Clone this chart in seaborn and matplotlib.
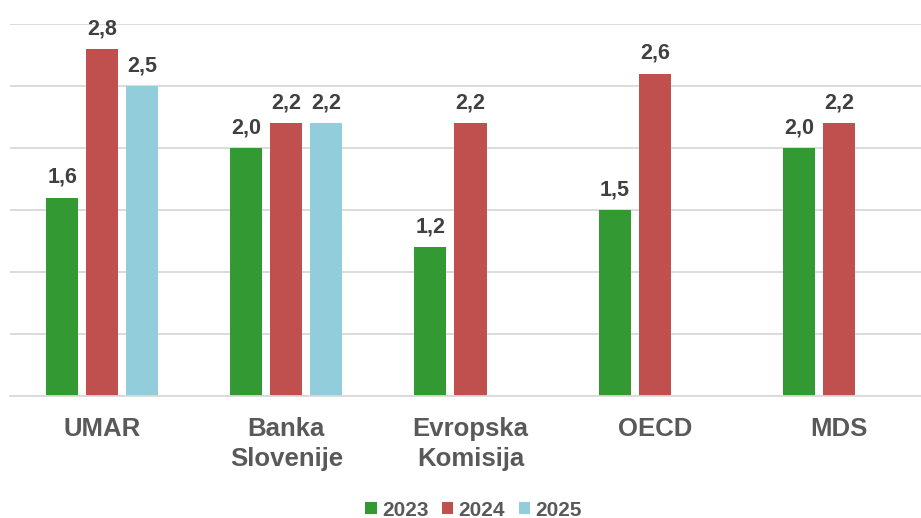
import matplotlib
matplotlib.use("Agg")
import matplotlib.pyplot as plt
import seaborn as sns
import pandas as pd
import numpy as np

categories = ["UMAR", "Banka\nSlovenije", "Evropska\nKomisija", "OECD", "MDS"]
years = ["2023", "2024", "2025"]
v2023 = [1.6, 2.0, 1.2, 1.5, 2.0]
v2024 = [2.8, 2.2, 2.2, 2.6, 2.2]
v2025 = [2.5, 2.2, np.nan, np.nan, np.nan]
colors = ["#339933", "#C0504D", "#92CDDC"]

rows = []
for yr, vals in zip(years, [v2023, v2024, v2025]):
    for c, v in zip(categories, vals):
        rows.append({"kat": c, "leto": yr, "val": v})
df = pd.DataFrame(rows).dropna()

sns.set_theme(style="white")
plt.rcParams["font.family"] = ["Liberation Sans", "DejaVu Sans"]

fig = plt.figure(figsize=(9.21, 5.18), dpi=100)
ax = fig.add_axes([10 / 921, 122 / 518, 921 / 921, 372 / 518])

sns.barplot(data=df, x="kat", y="val", hue="leto", order=categories,
            hue_order=years, palette=colors, width=0.652, gap=0.2,
            saturation=1, linewidth=0, ax=ax, legend=False, errorbar=None)

ax.set_ylim(0, 3.0)
ax.set_xlim(-0.5, len(categories) - 0.5)
ax.set_yticks(np.arange(0, 3.01, 0.5))
ax.yaxis.grid(True, color="#D9D9D9", linewidth=1.3)
ax.set_axisbelow(True)
ax.tick_params(axis="y", left=False, labelleft=False)
ax.tick_params(axis="x", bottom=False, pad=9)
for lbl in ax.get_xticklabels():
    lbl.set_fontsize(18.5)
    lbl.set_fontweight("bold")
    lbl.set_color("#595959")
    lbl.set_linespacing(1.35)
ax.set_xlabel("")
ax.set_ylabel("")
for s in ["top", "right", "left"]:
    ax.spines[s].set_visible(False)
ax.spines["bottom"].set_color("#D9D9D9")
ax.spines["bottom"].set_linewidth(1.3)

for cont in ax.containers:
    labels = [f"{v:.1f}".replace(".", ",") for v in cont.datavalues]
    ax.bar_label(cont, labels=labels, padding=7, fontsize=15.5,
                 fontweight="bold", color="#404040")

from matplotlib.patches import Patch
handles = [Patch(facecolor=c, edgecolor="none") for c in colors]
fig.legend(handles, years, loc="center", bbox_to_anchor=(473.5 / 921, 1 - 510 / 518),
           ncol=3, frameon=False, handlelength=0.55, handleheight=0.55,
           handletextpad=0.25, columnspacing=0.65,
           prop={"size": 15, "weight": "bold"}, labelcolor="#595959")

fig.savefig("out.png", dpi=100)
